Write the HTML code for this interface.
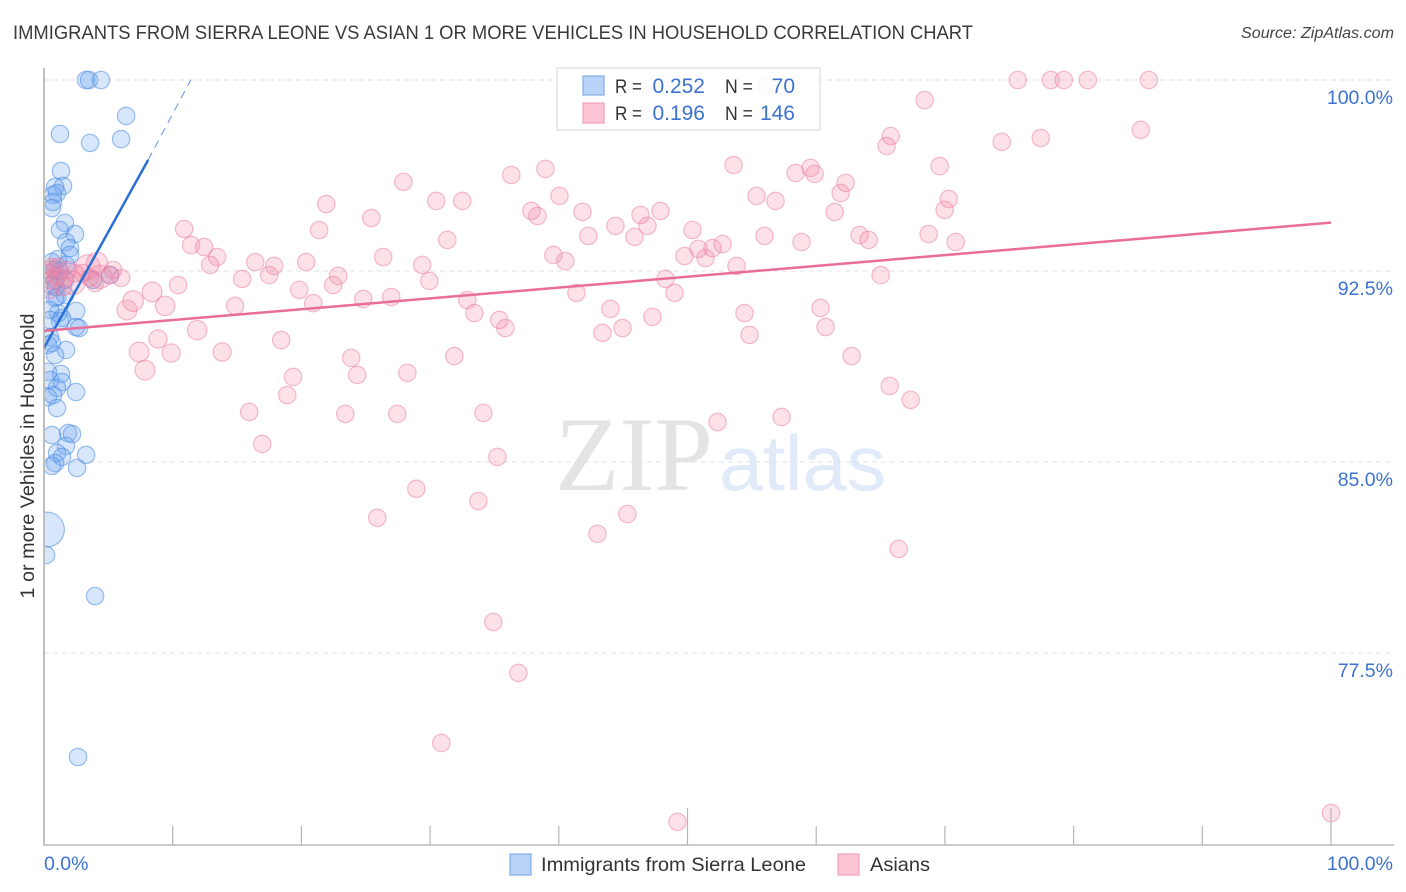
<!DOCTYPE html>
<html lang="en">
<head>
<meta charset="utf-8">
<title>Immigrants from Sierra Leone vs Asian 1 or more Vehicles in Household Correlation Chart</title>
<style>
html,body{margin:0;padding:0;background:#fff;width:1406px;height:892px;overflow:hidden}
svg{display:block;font-family:"Liberation Sans",sans-serif}
</style>
</head>
<body>
<svg id="chart" xmlns="http://www.w3.org/2000/svg" width="1406" height="892" viewBox="0 0 1406 892">
  <defs>
    <clipPath id="plot-clip"><rect x="45" y="60" width="1349" height="785"/></clipPath>
  </defs>
  <rect x="0" y="0" width="1406" height="892" fill="#ffffff"/>
  <text x="13" y="39" font-size="19.5" fill="#3a3a3a" textLength="960" lengthAdjust="spacingAndGlyphs">IMMIGRANTS FROM SIERRA LEONE VS ASIAN 1 OR MORE VEHICLES IN HOUSEHOLD CORRELATION CHART</text>
  <text x="1241" y="38" font-size="15.5" font-style="italic" fill="#444444" textLength="153" lengthAdjust="spacingAndGlyphs">Source: ZipAtlas.com</text>
  <text x="555" y="490" font-size="106" fill="#e4e4e4" textLength="158" lengthAdjust="spacingAndGlyphs" style="font-family:'Liberation Serif',serif">ZIP</text>
  <text x="719" y="490" font-size="78" fill="#e0eaf8" textLength="167" lengthAdjust="spacingAndGlyphs">atlas</text>
  <g id="grid"></g>
  <g id="blue-points" clip-path="url(#plot-clip)"></g>
  <g id="pink-points" clip-path="url(#plot-clip)"></g>
  <g id="trends"></g>
  <g id="axes"></g>
  <text transform="translate(34,456) rotate(-90)" font-size="19.5" fill="#333333" text-anchor="middle" textLength="285" lengthAdjust="spacingAndGlyphs">1 or more Vehicles in Household</text>

  <g>
    <rect x="557" y="68" width="263" height="62" fill="#ffffff" fill-opacity="0.9" stroke="#dddddd" stroke-width="1.2"/>
    <rect x="583" y="76" width="21" height="19" fill="#b9d3f8" stroke="#82ade6" stroke-width="1.2"/>
    <rect x="583" y="103" width="21" height="20" fill="#fcc5d6" stroke="#f0a3bc" stroke-width="1.2"/>
    <g font-size="19.5" fill="#333333">
      <text x="615" y="93" textLength="27" lengthAdjust="spacingAndGlyphs">R =</text>
      <text x="725" y="93" textLength="28" lengthAdjust="spacingAndGlyphs">N =</text>
      <text x="615" y="120" textLength="27" lengthAdjust="spacingAndGlyphs">R =</text>
      <text x="725" y="120" textLength="28" lengthAdjust="spacingAndGlyphs">N =</text>
    </g>
    <g font-size="21" fill="#3b73cf" text-anchor="end">
      <text x="705" y="93">0.252</text>
      <text x="795" y="93">70</text>
      <text x="705" y="120">0.196</text>
      <text x="795" y="120">146</text>
    </g>
  </g>

  <g>
    <rect x="510" y="854" width="21" height="21" fill="#b9d3f8" stroke="#82ade6" stroke-width="1.2"/>
    <text x="541" y="871" font-size="19.5" fill="#333333" textLength="265" lengthAdjust="spacingAndGlyphs">Immigrants from Sierra Leone</text>
    <rect x="838" y="854" width="21" height="21" fill="#fcc5d6" stroke="#f0a3bc" stroke-width="1.2"/>
    <text x="870" y="871" font-size="19.5" fill="#333333" textLength="60" lengthAdjust="spacingAndGlyphs">Asians</text>
  </g>
</svg>

<script>
// Tick values and labels
const yTicks = [100, 92.5, 85, 77.5];
const yTickLabels = ["100.0%", "92.5%", "85.0%", "77.5%"];
const xTicks = [10, 20, 30, 40, 50, 60, 70, 80, 90, 100];
const xMajorTicks = [50, 100];
const xEndLabels = ["0.0%", "100.0%"];

// Immigrants from Sierra Leone: x %, y %. Leading entries pair with blueWeights.
const blueX = [0.23,3.27,3.50,4.43,6.38,1.24,3.58,5.99,1.32,1.48,0.86,1.01,0.70,0.70,0.62,1.63,1.24,2.41,1.71,2.02,2.02,1.09,0.86,1.24,3.81,5.13,0.86,1.63,1.01,1.63,0.86,2.49,1.09,1.40,0.47,1.24,2.49,2.72,0.47,0.62,0.31,1.71,0.86,0.31,1.32,0.47,1.40,2.49,1.01,0.70,0.31,1.01,0.62,1.87,2.18,1.71,1.01,1.40,3.27,0.86,0.62,2.57,0.16,3.97,2.64,0.54,1.71,0.93,0.62,0.47];
const blueY = [82.35,100,100,100,98.59,97.88,97.53,97.68,96.43,95.84,95.80,95.56,95.49,95.21,94.97,94.39,94.11,93.95,93.64,93.40,93.13,92.97,92.54,92.50,92.15,92.34,92.15,92.15,91.48,91.56,91.44,90.93,90.85,90.66,90.97,90.54,90.30,90.26,89.91,89.67,89.60,89.40,89.20,88.54,88.46,88.22,88.14,87.75,87.91,87.63,87.55,87.12,86.06,86.14,86.10,85.63,85.36,85.20,85.28,84.96,84.85,84.77,81.35,79.74,73.42,91.95,92.74,91.87,92.85,90.58];
const blueWeights = [4.0];

// Asians: x %, y %. Leading entries pair with pinkWeights.
const pinkX = [3.42,4.35,2.26,4.12,7.39,7.85,6.92,6.45,8.40,9.41,11.90,13.84,9.88,8.86,75.66,78.23,79.24,81.10,85.85,56.14,68.43,85.22,77.45,74.42,65.79,65.47,69.59,53.58,38.96,36.31,27.92,59.56,59.88,58.40,62.29,61.90,55.37,56.84,70.30,69.98,40.05,30.48,32.50,21.93,37.87,38.34,41.84,47.90,46.35,61.43,25.43,10.89,21.38,46.89,44.40,50.39,42.30,45.88,55.99,63.37,64.07,68.74,70.84,58.86,31.34,11.43,12.44,13.45,12.91,16.41,17.88,20.37,52.72,50.85,51.94,49.77,51.40,39.58,40.51,26.36,29.39,53.81,65.01,48.29,22.86,17.50,15.40,29.94,10.42,19.83,22.47,41.37,48.99,32.89,26.98,24.81,20.92,14.85,33.44,44.01,60.34,54.43,47.28,35.38,35.85,60.73,44.95,43.39,54.82,18.43,23.87,31.88,62.75,24.34,28.23,19.36,18.90,65.71,67.34,15.94,23.41,27.45,34.14,57.31,52.33,16.95,35.23,28.93,33.75,25.89,45.33,43.00,66.41,34.91,36.86,30.87,49.22,100,5.99,5.37,5.13,3.03,3.58,2.41,1.87,1.63,1.09,1.01,0.47,0.47,1.48,0.62,0.31,0.47,3.97];
const pinkY = [92.66,92.27,92.03,92.82,89.32,88.61,91.32,90.97,91.68,91.13,90.18,89.32,89.28,89.83,100,100,100,100,100,99.76,99.21,98.04,97.72,97.57,97.80,97.41,96.62,96.66,96.51,96.27,96.00,96.55,96.31,96.35,95.96,95.56,95.45,95.25,95.33,94.90,95.45,95.25,95.25,95.13,94.86,94.66,94.82,94.86,94.70,94.82,94.58,94.15,94.11,94.27,94.27,94.11,93.88,93.84,93.88,93.91,93.72,93.95,93.64,93.64,93.72,93.52,93.44,93.05,92.74,92.85,92.70,92.85,93.56,93.37,93.40,93.09,93.01,93.13,92.89,93.05,92.74,92.70,92.34,92.19,92.31,92.34,92.19,92.11,91.95,91.76,91.95,91.64,91.64,91.36,91.48,91.40,91.24,91.13,90.85,91.01,91.05,90.85,90.70,90.58,90.26,90.30,90.26,90.07,89.99,89.79,89.09,89.16,89.16,88.42,88.50,88.34,87.63,87.99,87.44,86.97,86.89,86.89,86.93,86.77,86.57,85.71,85.20,83.95,83.47,82.81,82.96,82.18,81.59,78.72,76.72,73.97,70.87,71.22,92.23,92.54,92.34,92.42,92.23,92.42,92.54,92.23,92.66,92.27,92.54,92.15,91.87,92.66,92.42,91.76,92.03];
const pinkWeights = [2.0,1.8,1.8,1.5,1.3,1.3,1.4,1.3,1.3,1.25,1.25,1.1,1.1,1.1];

// Trend lines: x % and y % at each end
const blueTrendX = [0, 8.09];
const blueTrendY = [89.48, 96.86];
const blueDashX = [8.09, 11.4];
const blueDashY = [96.86, 100];
const pinkTrendX = [0, 100];
const pinkTrendY = [90.15, 94.40];

const NS = "http://www.w3.org/2000/svg";
const xScale = v => 44 + v * 12.87;
const yScale = v => 80 + (100 - v) * 25.47;
const radius = w => 8.7 * Math.sqrt(w);
const make = (tag, attrs, parent) => {
  const el = document.createElementNS(NS, tag);
  for (const k in attrs) el.setAttribute(k, attrs[k]);
  parent.appendChild(el);
  return el;
};

const grid = document.getElementById("grid");
yTicks.forEach((t, i) => {
  const line = make("line", {x1: 44, x2: 1394, y1: yScale(t), y2: yScale(t), stroke: "#dfe2e8", "stroke-width": 1, "stroke-dasharray": "5 4"}, grid);
  
  
  const lab = make("text", {x: 1393, y: yScale(t) + 24, "font-size": 19.5, fill: "#3b73cf", "text-anchor": "end"}, grid);
  lab.textContent = yTickLabels[i];
  
  
});

const bluePts = document.getElementById("blue-points");
blueX.forEach((x, i) => {
  const c = make("circle", {cx: xScale(x), cy: yScale(blueY[i]), r: radius(blueWeights[i] || 1), fill: "#6ba3f0", "fill-opacity": 0.27, stroke: "#4a8ce2", "stroke-opacity": 0.55, "stroke-width": 1.2}, bluePts);
  
  
});

const pinkPts = document.getElementById("pink-points");
pinkX.forEach((x, i) => {
  const c = make("circle", {cx: xScale(x), cy: yScale(pinkY[i]), r: radius(pinkWeights[i] || 1), fill: "#f4819f", "fill-opacity": 0.24, stroke: "#ec7fa3", "stroke-opacity": 0.52, "stroke-width": 1.2}, pinkPts);
  
  
});

const trends = document.getElementById("trends");
const blueTrend = make("line", {x1: xScale(blueTrendX[0]), y1: yScale(blueTrendY[0]), x2: xScale(blueTrendX[1]), y2: yScale(blueTrendY[1]), stroke: "#2a6fd6", "stroke-width": 2.5}, trends);


const blueDash = make("line", {x1: xScale(blueDashX[0]), y1: yScale(blueDashY[0]), x2: xScale(blueDashX[1]), y2: yScale(blueDashY[1]), stroke: "#5f95e0", "stroke-width": 1, "stroke-dasharray": "8 6"}, trends);


const pinkTrend = make("line", {x1: xScale(pinkTrendX[0]), y1: yScale(pinkTrendY[0]), x2: xScale(pinkTrendX[1]), y2: yScale(pinkTrendY[1]), stroke: "#e86d98", "stroke-width": 2.5}, trends);



const axes = document.getElementById("axes");
const yAxis = make("line", {x1: 44, x2: 44, y1: 68, y2: 845.7, stroke: "#aaaaaa", "stroke-width": 1.5}, axes);


const xAxis = make("line", {x1: 44, x2: 1394, y1: 845, y2: 845, stroke: "#bbbbbb", "stroke-width": 1.5}, axes);


xTicks.forEach(t => {
  const top = xMajorTicks.includes(t) ? 808 : 826;
  const tick = make("line", {x1: xScale(t), x2: xScale(t), y1: top, y2: 845, stroke: "#b5b5b5", "stroke-width": 1.2}, axes);
  
  
});
const xStart = make("text", {x: 44, y: 870, "font-size": 19.5, fill: "#3b73cf"}, axes);
xStart.textContent = xEndLabels[0];


const xEnd = make("text", {x: 1393, y: 870, "font-size": 19.5, fill: "#3b73cf", "text-anchor": "end"}, axes);
xEnd.textContent = xEndLabels[1];


</script>
</body>
</html>
